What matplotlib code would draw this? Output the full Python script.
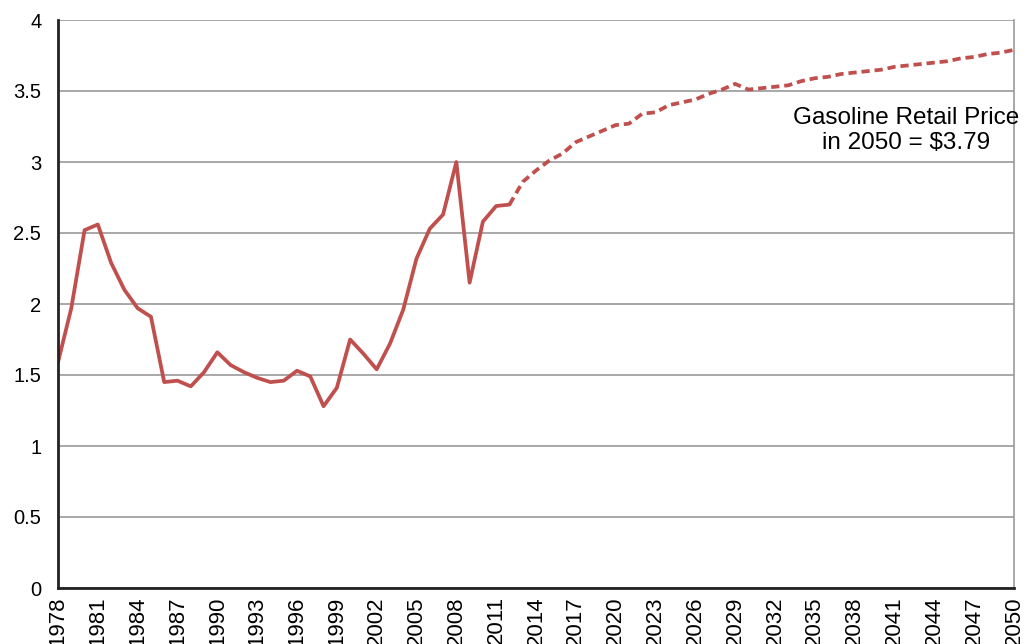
import numpy as np
import matplotlib.pyplot as plt

plt.rcParams['font.family'] = ['Liberation Sans', 'DejaVu Sans']

# historical retail gasoline price ($/gal), 1978-2012
hist_years = list(range(1978, 2013))
hist_price = [1.59, 1.97, 2.52, 2.56, 2.29, 2.10, 1.97, 1.91, 1.45, 1.46,
              1.42, 1.52, 1.66, 1.57, 1.52, 1.48, 1.45, 1.46, 1.53, 1.49,
              1.28, 1.41, 1.75, 1.65, 1.54, 1.72, 1.96, 2.32, 2.53, 2.63,
              3.00, 2.15, 2.58, 2.69, 2.70]

# projected price, 2012-2050
proj_years = list(range(2012, 2051))
proj_price = [2.70, 2.86, 2.94, 3.01, 3.06, 3.14, 3.18, 3.22, 3.26, 3.27,
              3.34, 3.35, 3.40, 3.42, 3.44, 3.48, 3.51, 3.55, 3.51, 3.52,
              3.53, 3.54, 3.57, 3.59, 3.60, 3.62, 3.63, 3.64, 3.65, 3.67,
              3.68, 3.69, 3.70, 3.71, 3.73, 3.74, 3.76, 3.77, 3.79]

tick_years = list(range(1978, 2051, 3))
line_color = '#C0504D'

fig = plt.figure(figsize=(10.24, 6.44), dpi=100)
ax = fig.add_axes([58 / 1024, 56 / 644, 956 / 1024, 568 / 644])

ax.plot(hist_years, hist_price, color=line_color, lw=2.7,
        solid_joinstyle='round', solid_capstyle='round', zorder=3)
ax.plot(proj_years, proj_price, color=line_color, lw=2.7,
        linestyle=(0, (2.2, 1.3)), zorder=3)

ax.set_xlim(1978, 2050)
ax.set_ylim(0, 4)
ax.set_yticks([0, 0.5, 1, 1.5, 2, 2.5, 3, 3.5, 4])
ax.set_yticklabels(['0', '0.5', '1', '1.5', '2', '2.5', '3', '3.5', '4'])
ax.set_xticks(tick_years)
ax.set_xticklabels([str(y) for y in tick_years], rotation=90, va='top')

ax.grid(axis='y', color='#999999', lw=1.2)
ax.set_axisbelow(True)
ax.tick_params(length=0, labelsize=14.5)
ax.tick_params(axis='x', pad=6, labelsize=16)
ax.tick_params(axis='y', pad=12)

for side in ['left', 'bottom']:
    ax.spines[side].set_color('#222222')
    ax.spines[side].set_linewidth(2.0)
    ax.spines[side].set_zorder(4)
ax.spines['right'].set_color('#999999')
ax.spines['right'].set_linewidth(1.2)
ax.spines['top'].set_visible(False)

ax.text(2041.9, 3.22, 'Gasoline Retail Price\nin 2050 = $3.79', ha='center',
        va='center', fontsize=17.5, linespacing=1.2, clip_on=False)

fig.savefig('out.png', dpi=100)
